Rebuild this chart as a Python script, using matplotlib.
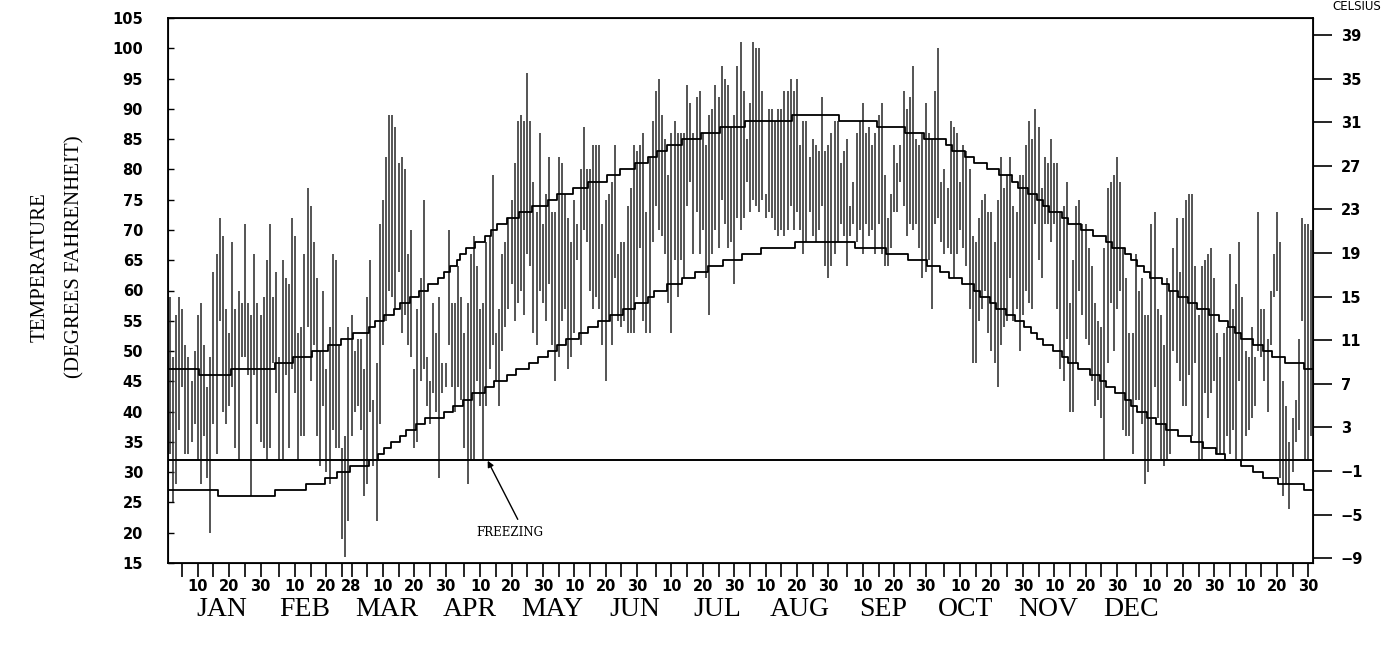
import numpy as np
import matplotlib
matplotlib.use("Agg")
import matplotlib.pyplot as plt

jan_hi = [59, 49, 56, 59, 57, 51, 49, 45, 50, 56, 58, 51, 44, 49, 63, 66, 72, 69, 57, 53, 68, 57, 60, 58, 71, 58, 56, 66, 58, 56, 59]
jan_lo = [33, 25, 28, 37, 44, 33, 33, 35, 38, 32, 28, 36, 29, 20, 38, 33, 55, 40, 38, 41, 44, 34, 32, 49, 49, 46, 26, 46, 38, 35, 34]
feb_hi = [65, 71, 59, 63, 49, 65, 62, 61, 72, 69, 53, 54, 66, 77, 74, 68, 62, 50, 60, 47, 54, 66, 65, 51, 34, 36, 54, 56]
feb_lo = [32, 34, 48, 43, 32, 32, 46, 34, 47, 43, 32, 36, 36, 54, 45, 51, 36, 31, 41, 30, 28, 37, 34, 34, 19, 16, 22, 36]
mar_hi = [50, 52, 52, 47, 59, 65, 42, 48, 71, 75, 82, 89, 89, 87, 81, 82, 80, 66, 70, 47, 57, 62, 75, 49, 45, 58, 53, 59, 48, 48, 70]
mar_lo = [40, 41, 37, 26, 28, 40, 31, 22, 38, 51, 55, 60, 59, 57, 63, 53, 56, 51, 49, 34, 35, 45, 47, 41, 38, 43, 40, 29, 43, 44, 51]
apr_hi = [58, 58, 64, 59, 53, 58, 66, 69, 64, 57, 58, 68, 69, 79, 53, 57, 66, 68, 72, 75, 81, 88, 89, 88, 96, 88, 78, 73, 86, 71]
apr_lo = [44, 40, 44, 42, 34, 28, 32, 32, 45, 41, 32, 41, 47, 51, 45, 41, 50, 54, 57, 61, 55, 58, 60, 56, 66, 64, 53, 51, 60, 58]
may_hi = [76, 82, 73, 73, 82, 81, 76, 72, 68, 75, 71, 80, 87, 80, 80, 84, 84, 84, 71, 75, 76, 78, 84, 66, 68, 68, 74, 77, 84, 83, 84]
may_lo = [55, 61, 51, 45, 49, 55, 57, 47, 49, 53, 65, 51, 70, 68, 60, 57, 59, 57, 51, 45, 55, 51, 62, 55, 54, 55, 53, 53, 53, 59, 67]
jun_hi = [86, 73, 82, 88, 93, 95, 89, 85, 79, 86, 88, 86, 86, 86, 94, 91, 86, 92, 93, 86, 84, 89, 90, 94, 92, 97, 95, 94, 87, 89]
jun_lo = [55, 53, 53, 68, 74, 70, 69, 66, 58, 53, 65, 59, 65, 62, 74, 78, 66, 73, 66, 70, 62, 56, 66, 70, 67, 75, 71, 67, 68, 61]
jul_hi = [97, 101, 93, 85, 91, 101, 100, 100, 93, 76, 90, 90, 88, 90, 90, 93, 93, 95, 93, 95, 84, 88, 88, 82, 85, 84, 83, 92, 83, 84, 86]
jul_lo = [72, 70, 72, 78, 73, 75, 74, 73, 75, 72, 73, 72, 70, 69, 70, 69, 70, 74, 70, 73, 70, 66, 68, 73, 69, 68, 70, 74, 64, 62, 64]
aug_hi = [88, 88, 81, 83, 85, 74, 78, 86, 88, 91, 86, 87, 84, 86, 89, 91, 79, 72, 76, 84, 81, 84, 93, 90, 92, 97, 85, 84, 86, 91, 86]
aug_lo = [66, 68, 71, 69, 64, 69, 71, 68, 70, 66, 71, 69, 70, 66, 71, 66, 64, 64, 67, 73, 73, 78, 74, 69, 71, 70, 71, 67, 62, 63, 65]
sep_hi = [85, 93, 100, 78, 80, 77, 88, 87, 86, 78, 84, 83, 80, 69, 68, 72, 75, 76, 73, 73, 68, 75, 82, 77, 79, 82, 74, 73, 79, 79]
sep_lo = [57, 71, 72, 68, 66, 67, 66, 62, 66, 70, 67, 64, 57, 48, 48, 55, 57, 60, 53, 50, 48, 44, 51, 54, 55, 62, 55, 57, 50, 56]
oct_hi = [84, 88, 85, 90, 87, 77, 82, 81, 85, 81, 81, 73, 74, 78, 58, 65, 74, 75, 71, 71, 67, 64, 58, 55, 54, 67, 77, 78, 79, 82, 78]
oct_lo = [60, 58, 57, 71, 65, 62, 71, 71, 68, 71, 57, 47, 45, 52, 40, 40, 48, 60, 56, 52, 51, 45, 41, 42, 39, 32, 48, 58, 50, 57, 60]
nov_hi = [67, 62, 53, 53, 66, 60, 62, 56, 56, 71, 73, 57, 56, 51, 62, 60, 67, 72, 63, 72, 75, 76, 76, 64, 56, 64, 65, 66, 67, 62]
nov_lo = [37, 36, 36, 33, 42, 42, 38, 28, 30, 32, 44, 39, 32, 31, 32, 33, 50, 48, 45, 41, 41, 46, 36, 48, 32, 32, 43, 39, 43, 45]
dec_hi = [53, 49, 53, 54, 66, 57, 61, 68, 59, 50, 49, 54, 49, 73, 57, 57, 52, 60, 66, 73, 68, 45, 41, 35, 39, 42, 52, 72, 71, 71, 70]
dec_lo = [33, 33, 33, 36, 33, 37, 32, 45, 32, 36, 37, 39, 41, 50, 49, 45, 40, 51, 59, 60, 29, 26, 28, 24, 30, 35, 37, 55, 32, 32, 36]

# normal max / min as steps: (first day of year, value)
norm_hi_day = [1, 11, 21, 35, 41, 47, 52, 56, 60, 65, 67, 70, 73, 75, 78, 81, 84, 87, 89, 91, 93, 94, 96, 99,
               102, 104, 106, 109, 113, 117, 122, 125, 130, 135, 141, 145, 150, 154, 157, 160, 165, 171, 177,
               185, 200, 215, 227, 236, 242, 249, 251, 255, 258, 262, 266, 270, 272, 275, 278, 280, 282, 286,
               288, 292, 296, 300, 302, 306, 308, 310, 312, 314, 318, 320, 323, 326, 329, 333, 336, 339, 341,
               343, 347, 350, 353, 357, 363]
norm_hi_val = [47, 46, 47, 48, 49, 50, 51, 52, 53, 54, 55, 56, 57, 58, 59, 60, 61, 62, 63, 64, 65, 66, 67, 68,
               69, 70, 71, 72, 73, 74, 75, 76, 77, 78, 79, 80, 81, 82, 83, 84, 85, 86, 87,
               88, 89, 88, 87, 86, 85, 84, 83, 82, 81, 80, 79, 78, 77, 76, 75, 74, 73, 72,
               71, 70, 69, 68, 67, 66, 65, 64, 63, 62, 61, 60, 59, 58, 57, 56, 55, 54, 53,
               52, 51, 50, 49, 48, 47]
norm_lo_day = [1, 17, 35, 45, 51, 55, 59, 65, 68, 70, 72, 75, 77, 80, 83, 89, 92, 95, 98, 102, 105, 109, 112,
               116, 119, 122, 125, 128, 132, 135, 138, 142, 146, 150, 154, 156, 160, 165, 169, 173, 178, 184,
               190, 201, 220, 230, 237, 243, 247, 250, 254, 258, 260, 263, 265, 268, 271, 274, 276, 278, 280,
               283, 286, 288, 291, 295, 298, 300, 303, 306, 308, 310, 313, 316, 319, 323, 327, 331, 335, 338,
               343, 347, 350, 355, 363]
norm_lo_val = [27, 26, 27, 28, 29, 30, 31, 32, 33, 34, 35, 36, 37, 38, 39, 40, 41, 42, 43, 44, 45, 46, 47,
               48, 49, 50, 51, 52, 53, 54, 55, 56, 57, 58, 59, 60, 61, 62, 63, 64, 65, 66,
               67, 68, 67, 66, 65, 64, 63, 62, 61, 60, 59, 58, 57, 56, 55, 54, 53, 52, 51,
               50, 49, 48, 47, 46, 45, 44, 43, 42, 41, 40, 39, 38, 37, 36, 35, 34, 33, 32,
               31, 30, 29, 28, 27]

months = ["JAN", "FEB", "MAR", "APR", "MAY", "JUN", "JUL", "AUG", "SEP", "OCT", "NOV", "DEC"]
month_len = [31, 28, 31, 30, 31, 30, 31, 31, 30, 31, 30, 31]
freezing = 32

highs = np.array(jan_hi + feb_hi + mar_hi + apr_hi + may_hi + jun_hi
                 + jul_hi + aug_hi + sep_hi + oct_hi + nov_hi + dec_hi)
lows = np.array(jan_lo + feb_lo + mar_lo + apr_lo + may_lo + jun_lo
                + jul_lo + aug_lo + sep_lo + oct_lo + nov_lo + dec_lo)
days = np.arange(1, len(highs) + 1)

fig = plt.figure(figsize=(13.91, 6.5), dpi=100)
ax = fig.add_axes([168 / 1391, 1 - 563 / 650, (1313 - 168) / 1391, (563 - 18) / 650])

ax.vlines(days, lows, highs, color='#262626', lw=1.1)


def _steps(ax, start, vals):
    x = np.array(start + [366]) - 0.5
    y = np.array(vals + [vals[-1]])
    ax.step(x, y, where='post', color='black', lw=1.3)


_steps(ax, norm_hi_day, norm_hi_val)
_steps(ax, norm_lo_day, norm_lo_val)
ax.axhline(freezing, color='black', lw=1.4)

ax.set_xlim(0.5, 365.5)
ax.set_ylim(15, 105)

# left axis
ax.set_yticks(np.arange(15, 106, 5))
ax.tick_params(axis='y', direction='in', length=4, width=1, pad=18,
               labelsize=10.5)
for t in ax.get_yticklabels():
    t.set_fontweight('bold')

# bottom axis: ticks every 5 days, labels at 10, 20, 30 (28 for Feb)
month_start = np.cumsum([0] + month_len[:-1])
tick_pos, tick_lab = [], []
for m, n in enumerate(month_len):
    dom = [5, 10, 15, 20, 25, 30] if n >= 30 else [5, 10, 15, 20, 25, 28]
    for d in dom:
        tick_pos.append(month_start[m] + d)
        tick_lab.append(str(d) if d in (10, 20, 30, 28) else '')
ax.set_xticks(tick_pos)
ax.set_xticklabels(tick_lab)
ax.tick_params(axis='x', direction='out', length=10, width=1.2, pad=1.5,
               labelsize=10.5)
for t in ax.get_xticklabels():
    t.set_fontweight('bold')

for s in ax.spines.values():
    s.set_linewidth(1.3)

# right axis in Celsius
ax2 = ax.twinx()
ax2.set_ylim((15 - 32) * 5 / 9, (105 - 32) * 5 / 9)
ax2.set_yticks(np.arange(-9, 40, 4))
ax2.set_yticklabels([str(v).replace('-', '\u2212') for v in range(-9, 40, 4)])
ax2.tick_params(axis='y', direction='out', length=14, width=1.2, pad=6,
                labelsize=10.5)
for t in ax2.get_yticklabels():
    t.set_fontweight('bold')

# freezing annotation
ax.annotate('', xy=(102, 32.3), xytext=(112.4, 21.8),
            arrowprops=dict(arrowstyle='-|>', color='black', lw=1,
                            mutation_scale=9))
ax.text(109.5, 20, 'FREEZING', ha='center', va='center', fontsize=8.5,
        family='DejaVu Serif')

# month names, evenly spaced below the axis
for i, name in enumerate(months):
    fig.text((222 + i * 82.6) / 1391, 1 - 610 / 650, name, ha='center',
             va='center', fontsize=20, family='Liberation Serif')

fig.text(40 / 1391, 1 - 267 / 650, 'TEMPERATURE', rotation=90, ha='center',
         va='center', fontsize=15, family='Liberation Serif')
fig.text(75 / 1391, 1 - 257 / 650, '(DEGREES FAHRENHEIT)', rotation=90,
         ha='center', va='center', fontsize=15, family='Liberation Serif')
fig.text(1357 / 1391, 1 - 7 / 650, 'CELSIUS', ha='center', va='center',
         fontsize=8.5)

fig.savefig('out.png', dpi=100)
plt.close(fig)
